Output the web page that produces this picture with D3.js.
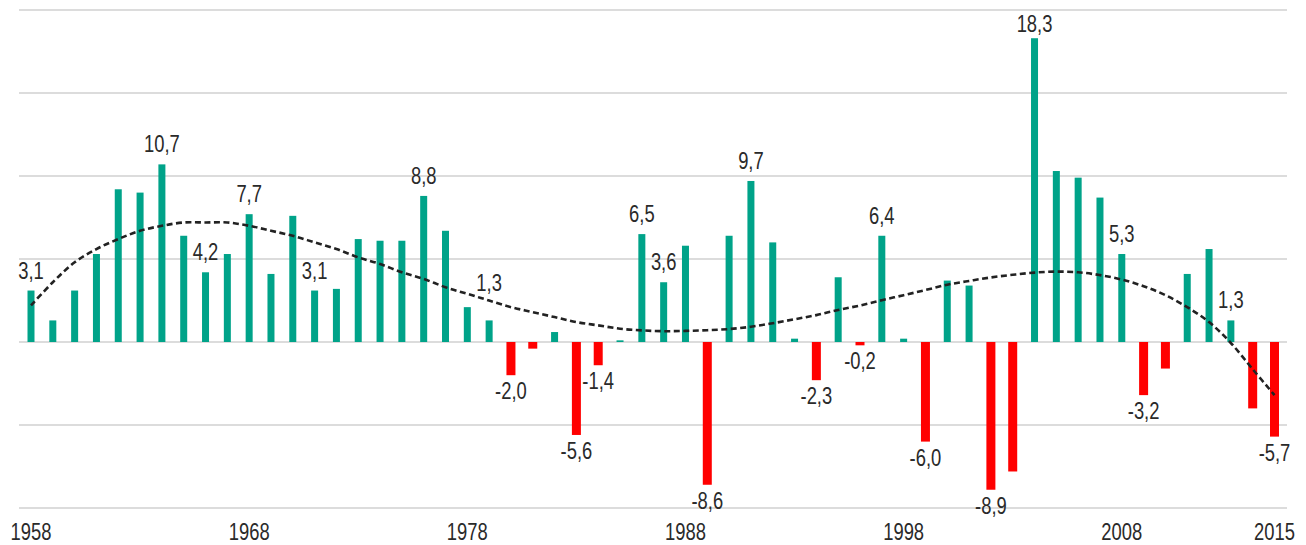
<!DOCTYPE html>
<html>
<head>
<meta charset="utf-8">
<script src="https://cdn.jsdelivr.net/npm/d3@7"></script>
<style>
  html, body { margin: 0; padding: 0; background: #fff; }
  svg { display: block; }
  text { font-family: "Liberation Sans", Arial, sans-serif; fill: #2a2a2a; }
</style>
</head>
<body>
<svg id="chart" width="1306" height="545"></svg>
<script>
// ---- data ----
const years = d3.range(1958, 2016);
const values = [
  3.1, 1.3, 3.1, 5.3, 9.2, 9.0, 10.7, 6.4, 4.2, 5.3,
  7.7, 4.1, 7.6, 3.1, 3.2, 6.2, 6.1, 6.1, 8.8, 6.7,
  2.1, 1.3, -2.0, -0.4, 0.6, -5.6, -1.4, 0.1, 6.5, 3.6,
  5.8, -8.6, 6.4, 9.7, 6.0, 0.2, -2.3, 3.9, -0.2, 6.4,
  0.2, -6.0, 3.7, 3.4, -8.9, -7.8, 18.3, 10.3, 9.9, 8.7,
  5.3, -3.2, -1.6, 4.1, 5.6, 1.3, -4.0, -5.7
];
const trend = [
  2.2, 3.6, 4.8, 5.6, 6.2, 6.7, 7.0, 7.2, 7.2, 7.2,
  7.0, 6.7, 6.4, 6.0, 5.6, 5.1, 4.7, 4.2, 3.8, 3.3,
  2.9, 2.5, 2.1, 1.8, 1.5, 1.2, 1.0, 0.8, 0.7, 0.65,
  0.67, 0.71, 0.78, 0.92, 1.13, 1.37, 1.62, 1.93, 2.2, 2.52,
  2.82, 3.13, 3.45, 3.68, 3.89, 4.05, 4.18, 4.24, 4.2, 4.03,
  3.76, 3.36, 2.82, 2.1, 1.2, -0.06, -1.64, -3.2
];
const labelledYears = [1958, 1964, 1966, 1968, 1971, 1976, 1979, 1980, 1983, 1984,
  1986, 1987, 1989, 1991, 1994, 1996, 1997, 1999, 2002, 2004, 2008, 2009, 2013, 2015];
const xTickYears = [1958, 1968, 1978, 1988, 1998, 2008, 2015];
const gridValues = [-10, -5, 0, 5, 10, 15, 20];

// ---- layout ----
const svg = d3.select("#chart");
const x = d3.scaleLinear().domain([1958, 2015]).range([31, 1274.5]);
const y = d3.scaleLinear().domain([-10, 20]).range([508, 10]);
const gridX0 = 19, gridX1 = 1287;
const posColor = "#00a389", negColor = "#ff0000";
const narrow = 0.8;
const fmt = v => d3.format(".1f")(v).replace(".", ",").replace("−", "-");

// gridlines
svg.append("g").selectAll("line").data(gridValues).join("line")
  .attr("x1", gridX0).attr("x2", gridX1)
  .attr("y1", d => y(d)).attr("y2", d => y(d))
  .attr("stroke", "#dcdcdc").attr("stroke-width", 2);

// bars
const data = years.map((yr, i) => ({ year: yr, value: values[i], trend: trend[i] }));
svg.append("g").selectAll("rect").data(data).join("rect")
  .attr("x", d => x(d.year) - (d.value >= 0 ? 3.5 : 4.5))
  .attr("width", d => d.value >= 0 ? 7 : 9)
  .attr("y", d => y(Math.max(0, d.value)))
  .attr("height", d => Math.abs(y(d.value) - y(0)))
  .attr("fill", d => d.value >= 0 ? posColor : negColor);

// trend line
const line = d3.line().x(d => x(d.year)).y(d => y(d.trend)).curve(d3.curveCatmullRom);
svg.append("path").datum(data)
  .attr("d", line)
  .attr("fill", "none")
  .attr("stroke", "#222")
  .attr("stroke-width", 2.6)
  .attr("stroke-dasharray", "6,3.5");

// value labels
const liftOverride = { 1979: 29, 2004: 6 };
svg.append("g").selectAll("text").data(data.filter(d => labelledYears.includes(d.year))).join("text")
  .attr("transform", d => {
    const ty = d.value >= 0 ? y(d.value) - (liftOverride[d.year] ?? 12) : y(d.value) + 24;
    return `translate(${x(d.year)},${ty}) scale(${narrow},1)`;
  })
  .attr("text-anchor", "middle")
  .attr("font-size", 23)
  .text(d => fmt(d.value));

// x axis labels
svg.append("g").selectAll("text").data(xTickYears).join("text")
  .attr("transform", d => `translate(${x(d)},540) scale(${narrow},1)`)
  .attr("text-anchor", "middle")
  .attr("font-size", 23)
  .text(d => d);
</script>
</body>
</html>
